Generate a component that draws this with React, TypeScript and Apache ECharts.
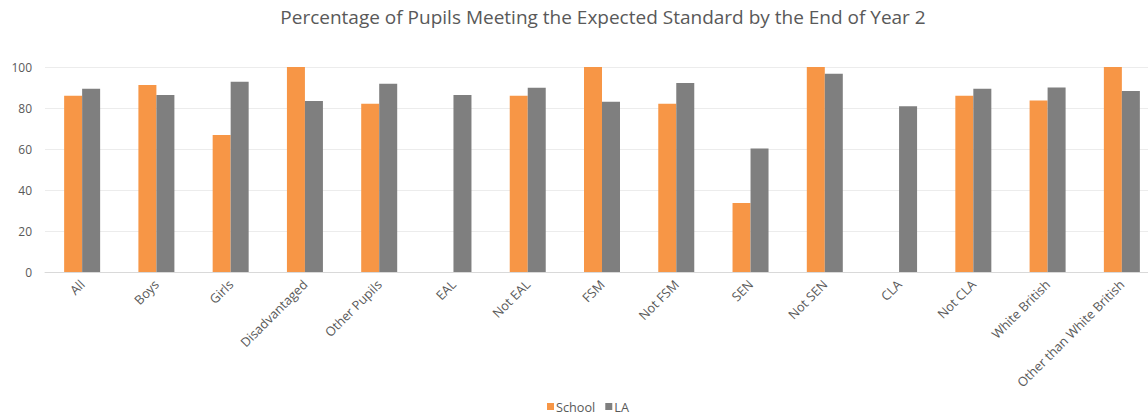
import React, { useEffect, useRef } from "react";
import * as echarts from "echarts";

const categories = [
  "All", "Boys", "Girls", "Disadvantaged", "Other Pupils", "EAL", "Not EAL", "FSM",
  "Not FSM", "SEN", "Not SEN", "CLA", "Not CLA", "White British", "Other than White British",
];
const schoolValues: (number | null)[] = [86, 91.2, 66.8, 100, 82.1, null, 86, 100, 82.1, 33.7, 100, null, 86, 83.7, 100];
const laValues: number[] = [89.4, 86.3, 92.8, 83.4, 91.8, 86.3, 89.9, 83, 92.2, 60.2, 96.7, 80.8, 89.4, 90, 88.3];
const yTicks = { min: 0, max: 100, interval: 20 };

export default function App() {
  const ref = useRef<HTMLDivElement>(null);
  useEffect(() => {
    if (!ref.current) return;
    const chart = echarts.init(ref.current, undefined, { renderer: "svg" });
    const font = "'Open Sans', 'Noto Sans', sans-serif";
    chart.setOption({
      animation: false,
      backgroundColor: "#ffffff",
      textStyle: { fontFamily: font },
      title: {
        text: "Percentage of Pupils Meeting the Expected Standard by the End of Year 2",
        left: 598,
        textAlign: "center",
        top: 2,
        textStyle: { fontFamily: font, fontSize: 19, fontWeight: "normal", color: "#595959" },
      },
      legend: {
        bottom: 0,
        left: 542,
        itemWidth: 7,
        itemHeight: 7,
        itemGap: 10,
        icon: "rect",
        textStyle: { fontFamily: font, fontSize: 12.7, color: "#595959", padding: [0, 0, 0, -3] },
        data: ["School", "LA"],
      },
      grid: { left: 45, top: 67, width: 1114, height: 205, containLabel: false },
      xAxis: {
        type: "category",
        data: categories,
        axisLine: { lineStyle: { color: "#d9d9d9" } },
        axisTick: { show: false },
        axisLabel: { rotate: 45, color: "#595959", fontSize: 12.8, margin: 10, interval: 0, fontFamily: font },
      },
      yAxis: {
        type: "value",
        min: yTicks.min,
        max: yTicks.max,
        interval: yTicks.interval,
        axisLine: { show: false },
        axisTick: { show: false },
        axisLabel: { color: "#595959", fontSize: 12, margin: 13, fontFamily: font },
        splitLine: { lineStyle: { color: "#ececec" } },
      },
      series: [
        {
          name: "School",
          type: "bar",
          data: schoolValues,
          barWidth: 18,
          barGap: "0%",
          itemStyle: { color: "#F79646" },
        },
        {
          name: "LA",
          type: "bar",
          data: laValues,
          barWidth: 18,
          barGap: "0%",
          itemStyle: { color: "#7F7F7F" },
        },
      ],
    });
    return () => chart.dispose();
  }, []);
  return (
    <div style={{ position: "fixed", left: 0, top: 0, width: 1148, height: 418, overflow: "hidden" }}>
      <div ref={ref} style={{ width: 1164, height: 418 }} />
    </div>
  );
}
